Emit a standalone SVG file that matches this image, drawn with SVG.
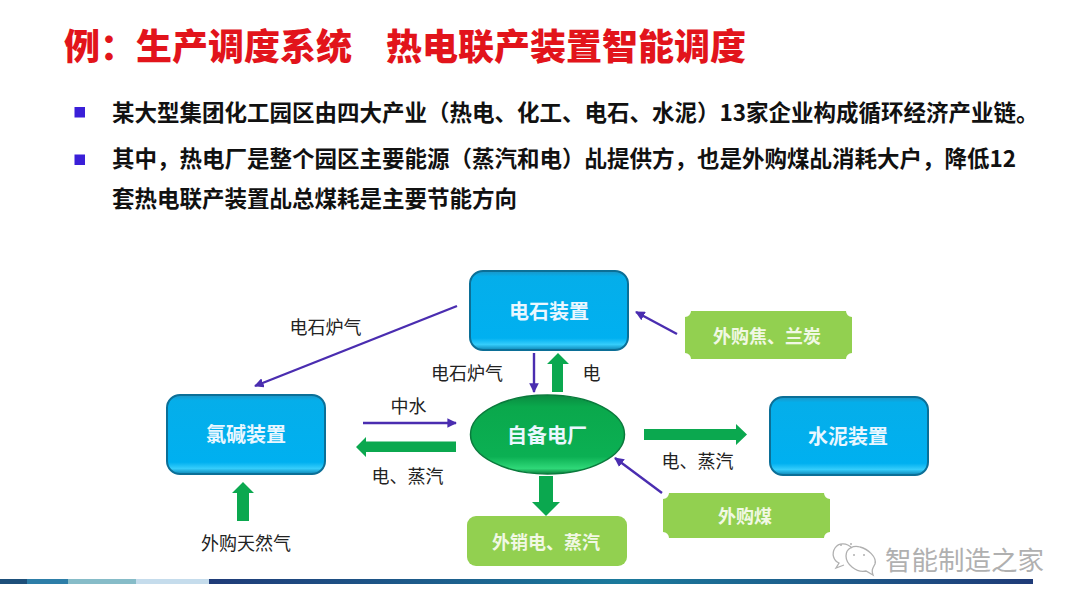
<svg xmlns="http://www.w3.org/2000/svg" width="1080" height="608" viewBox="0 0 1080 608">
<style>
text{font-family:"Noto Sans CJK SC","Noto Sans",sans-serif}
.title{font-size:36px;font-weight:900;fill:#e2141b}
.body{font-size:22.500px;font-weight:700;fill:#111}
.lab{font-size:18px;fill:#222;text-anchor:middle}
.nt{font-size:20px;font-weight:700;fill:#eaf7ff;text-anchor:middle;dominant-baseline:central}
.gt{font-size:18px;font-weight:700;fill:#f1f8e4;text-anchor:middle;dominant-baseline:central}
.blue{fill:url(#gb);stroke:#0b6f97;stroke-width:2}
.lg{fill:#92d050}
.thin{stroke:#4a2db0;stroke-width:2.400;fill:none;marker-end:url(#ah)}
.fat{fill:#0ba84f}
.wm{fill:none;stroke:#b0b0b0;stroke-width:1.300}
.dot{fill:#b0b0b0}
</style>
<defs>
<marker id="ah" viewBox="0 0 10 10" refX="9" refY="5" markerWidth="4" markerHeight="4" orient="auto"><path d="M0 0L10 5L0 10z" fill="#4a2db0"/></marker>
<linearGradient id="gb" x1="0" y1="0" x2="0" y2="1">
<stop offset="0" stop-color="#1d95c6"/><stop offset=".07" stop-color="#05aeea"/><stop offset=".85" stop-color="#00b0f0"/><stop offset=".93" stop-color="#35cdfb"/><stop offset="1" stop-color="#0d86b5"/>
</linearGradient>
<linearGradient id="ge" x1="0" y1="0" x2="0" y2="1">
<stop offset="0" stop-color="#0a8a40"/><stop offset=".15" stop-color="#0aa84c"/><stop offset=".78" stop-color="#0bb053"/><stop offset=".93" stop-color="#2fd878"/><stop offset="1" stop-color="#0a7f3c"/>
</linearGradient>
<linearGradient id="bar" x1="0" y1="0" x2="1" y2="0">
<stop offset="0" stop-color="#1f3b78"/><stop offset=".5" stop-color="#1b7a9c"/><stop offset="1" stop-color="#1f3b78"/>
</linearGradient>
</defs>

<g id="heading">
<text class="title" x="64" y="60">例：生产调度系统</text>
<text class="title" x="386" y="60">热电联产装置智能调度</text>
</g>
<g id="bullets">
<rect x="74.500" y="107" width="10.500" height="10.500" fill="#3a1fd8"/>
<rect x="74.500" y="154.500" width="10.500" height="10.500" fill="#3a1fd8"/>
<text class="body" x="112" y="120.500">某大型集团化工园区由四大产业（热电、化工、电石、水泥）13家企业构成循环经济产业链。</text>
<text class="body" x="112" y="167">其中，热电厂是整个园区主要能源（蒸汽和电）乩提供方，也是外购煤乩消耗大户，降低12</text>
<text class="body" x="112" y="207">套热电联产装置乩总煤耗是主要节能方向</text>
</g>

<g id="connectors">
<path class="thin" d="M457 306L255 386"/>
<path class="thin" d="M534 353V392"/>
<path class="thin" d="M363 423H456"/>
<path class="thin" d="M677 334L636 312"/>
<path class="thin" d="M662 493L615 458"/>
<path class="fat" d="M552 392V364H547L558 353L569 364H563V392z"/>
<path class="fat" d="M456 441.500H366V437L356 447L366 457V452H456z"/>
<path class="fat" d="M644 429H736V424L747 434.500L736 445V440H644z"/>
<path class="fat" d="M539 476H553V502H560L546 516L532 502H539z"/>
<path class="fat" d="M237 521V493H232L243 482L254 493H249V521z"/>
<text class="lab" x="325.500" y="334">电石炉气</text>
<text class="lab" x="467" y="380">电石炉气</text>
<text class="lab" x="591.500" y="380">电</text>
<text class="lab" x="408.500" y="413">中水</text>
<text class="lab" x="407.500" y="483">电、蒸汽</text>
<text class="lab" x="697.500" y="468">电、蒸汽</text>
<text class="lab" x="246" y="550">外购天然气</text>
</g>

<g id="node-dianshi"><rect class="blue" x="470" y="271" width="158" height="79" rx="13"/><text class="nt" x="549" y="310">电石装置</text></g>
<g id="node-lujian"><rect class="blue" x="167" y="395" width="158" height="79" rx="13"/><text class="nt" x="246" y="433">氯碱装置</text></g>
<g id="node-shuini"><rect class="blue" x="770" y="397" width="158" height="78" rx="13"/><text class="nt" x="848" y="435">水泥装置</text></g>
<g id="node-zibei"><ellipse cx="547.500" cy="434.500" rx="77" ry="39.500" fill="url(#ge)" stroke="#0a7a3c" stroke-width="1.500"/><text class="nt" x="547" y="434">自备电厂</text></g>
<g id="node-jiao"><path class="lg" d="M691 311H846A6 6 0 0 0 852 317V353A6 6 0 0 0 846 359H691A6 6 0 0 0 685 353V317A6 6 0 0 0 691 311z"/><text class="gt" x="767" y="335">外购焦、兰炭</text></g>
<g id="node-mei"><path class="lg" d="M669 493H824A6 6 0 0 0 830 499V532A6 6 0 0 0 824 538H669A6 6 0 0 0 663 532V499A6 6 0 0 0 669 493z"/><text class="gt" x="745" y="515">外购煤</text></g>
<g id="node-waixiao"><rect class="lg" x="467" y="516" width="160" height="50" rx="9"/><text class="gt" x="546" y="541">外销电、蒸汽</text></g>

<g id="footer">
<rect x="0" y="579" width="27" height="5" fill="#1d4f7a"/>
<rect x="27" y="579" width="41" height="5" fill="#2d7ea8"/>
<rect x="68" y="579" width="68" height="5" fill="#86bcc8"/>
<rect x="136" y="579" width="73" height="5" fill="#c5dcec"/>
<rect x="209" y="579" width="824" height="5" fill="url(#bar)"/>
</g>
<g id="watermark">
<path class="wm" d="M852 548C847 543 839 542 835 548C831 554 834 561 839 563L836 568L844 565"/>
<path class="wm" d="M846 556C846 548 854 545 860 547C868 549 877 557 875 564C873 568 871 570 873 575L866 571C856 573 846 564 846 556z"/>
<circle class="dot" cx="854" cy="555" r="1"/><circle class="dot" cx="864" cy="555" r="1"/>
<circle class="dot" cx="841" cy="545" r="1"/><circle class="dot" cx="851" cy="544" r="1"/>
<text x="885" y="570" font-size="26.500" fill="#b0b0b0">智能制造之家</text>
</g>
</svg>
